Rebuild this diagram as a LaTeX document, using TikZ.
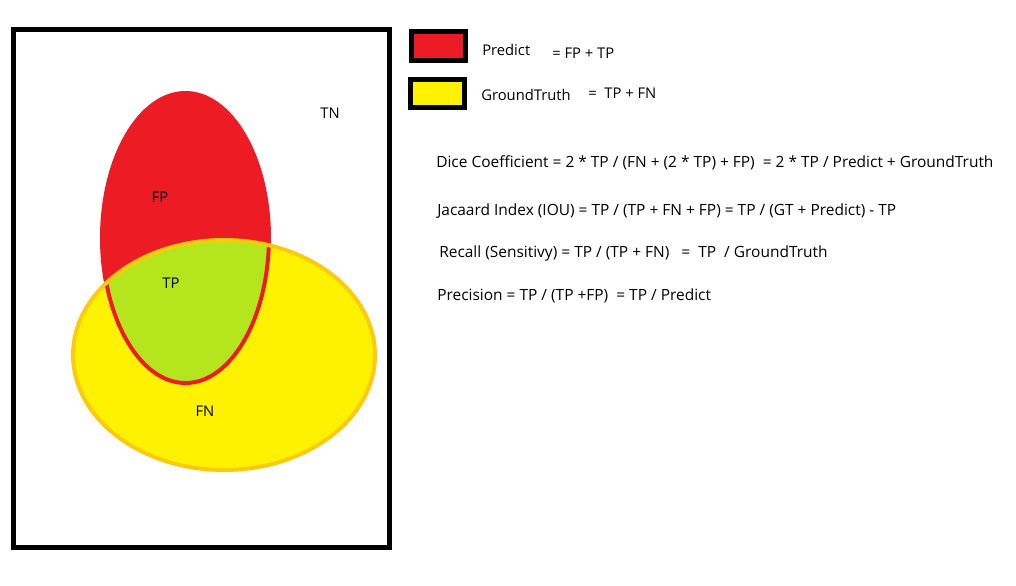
\documentclass[tikz,border=0pt]{standalone}
\usepackage{fontspec}
\setmainfont{Open Sans}
\usetikzlibrary{positioning}
\definecolor{predred}{HTML}{ED1C24}
\definecolor{gtyellow}{HTML}{FFF200}
\definecolor{tpgreen}{HTML}{B5E61D}
\definecolor{gtorange}{HTML}{FFC90E}
\tikzset{lbl/.style={inner sep=0pt},
  txt/.style={inner sep=0pt,anchor=west},
  keybox/.style={draw=black,line width=3.6pt}}
\begin{document}
\begin{tikzpicture}[x=0.025cm,y=-0.025cm,font=\fontsize{10.5}{12}\selectfont]
                \useasboundingbox (0,0) rectangle (1016,585);
                \draw[line width=3.6pt] (13.5,29.5) rectangle (389.5,547.5);
                \fill[predred] (185.5,238) ellipse (85.5 and 147);
                \fill[gtyellow] (224,355) ellipse (151 and 115);
                \begin{scope}
                    \clip (224,355) ellipse (151 and 115);
                    \draw[predred,fill=tpgreen,line width=2.8pt] (185.5,236) ellipse (83.5 and 147);
                \end{scope}
                \draw[gtorange,line width=2.8pt] (224,355) ellipse (151 and 115);
                \node[lbl] (fp) at (160,197) {FP};
                \node[lbl] (tp) at (171,283) {TP};
                \node[lbl] (fn) at (205,411) {FN};
                \node[lbl] (tn) at (330,113) {TN};
                % legend
                \draw[keybox,fill=predred] (411.5,31.5) rectangle (465.5,60.5);
                \draw[keybox,fill=gtyellow] (410.5,79.5) rectangle (464.5,107.5);
                \node[txt] (pred) at (482,50) {Predict};
                \node[txt] (predeq) at (552,53) {= FP + TP};
                \node[txt] (gt) at (481,95) {GroundTruth};
                \node[txt] (gteq) at (588,93) {= \ TP + FN};
                % formulas
                \begin{scope}[font=\fontsize{11}{13}\selectfont]
                \node[txt] (dice) at (436,163) {Dice Coefficient = 2 * TP / (FN + (2 * TP) + FP) \ = 2 * TP / Predict + GroundTruth};
                \node[txt] (iou) at (437,211) {Jacaard Index (IOU) = TP / (TP + FN + FP) = TP / (GT + Predict) - TP};
                \node[txt] (recall) at (439,253) {Recall (Sensitivy) = TP / (TP + FN) \ \ = \ TP \ / GroundTruth};
                \node[txt] (prec) at (437,296) {Precision = TP / (TP +FP) \ = TP / Predict};
                \end{scope}
            \end{tikzpicture}
\end{document}
